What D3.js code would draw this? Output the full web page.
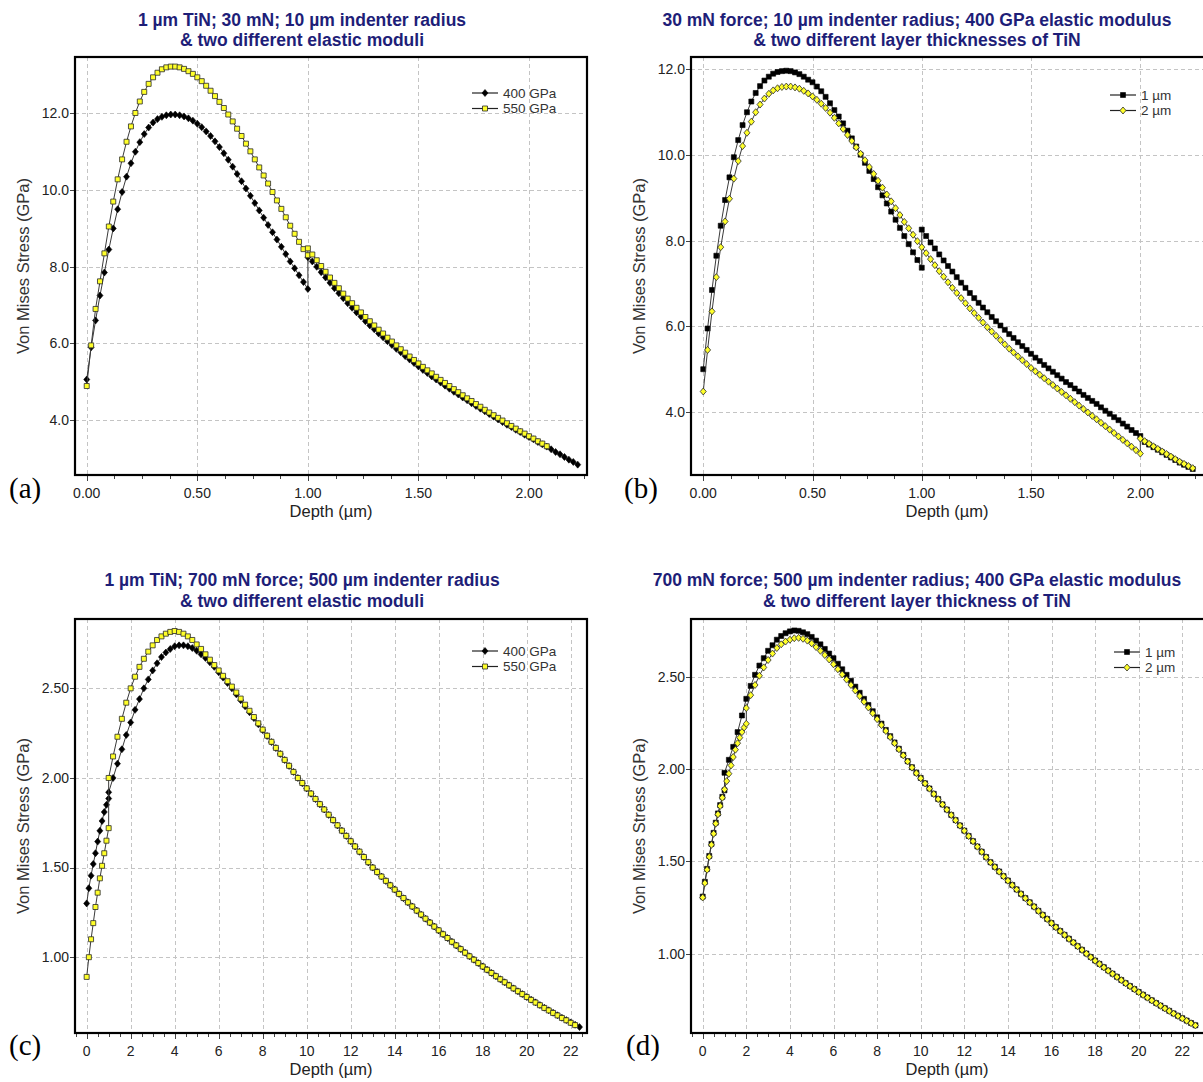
<!DOCTYPE html>
<html>
<head>
<meta charset="utf-8">
<script src="https://cdn.jsdelivr.net/npm/d3@7"></script>
<style>
  body { margin: 0; background: #ffffff; }
  svg text { font-family: "Liberation Sans", Arial, Helvetica, sans-serif; }
</style>
</head>
<body>
<svg id="fig" width="1203" height="1082"></svg>
<script>
// ---------------- Tick values ----------------
const thinDepthTicks = [0, 0.5, 1.0, 1.5, 2.0];
const thickDepthTicks = [0, 2, 4, 6, 8, 10, 12, 14, 16, 18, 20, 22];
const thinStressTicks = [4, 6, 8, 10, 12];
const thickStressTicks = [1.0, 1.5, 2.0, 2.5];

// ---------------- Panel (a): 1 µm TiN, 30 mN, R = 10 µm ----------------
// stress (GPa) every 0.02 µm; coating part from 0, substrate part from the interface
const a400Coat = [5.06,5.90,6.60,7.25,7.85,8.45,9.00,9.50,9.95,10.35,10.70,11.00,11.25,11.46,11.63,11.76,11.85,11.91,11.95,11.97,
  11.97,11.95,11.92,11.87,11.81,11.73,11.64,11.53,11.41,11.27,11.12,10.96,10.79,10.61,10.42,10.23,10.04,9.85,9.66,9.47,
  9.28,9.09,8.90,8.71,8.52,8.33,8.14,7.96,7.78,7.60,7.42];
const a400Sub = [8.25,8.14,8.00,7.86,7.72,7.58,7.44,7.31,7.18,7.05,6.93,6.81,6.70,6.58,6.47,6.37,6.26,6.16,6.06,5.96,
  5.86,5.77,5.67,5.58,5.49,5.40,5.31,5.23,5.14,5.06,4.98,4.90,4.82,4.74,4.67,4.59,4.52,4.44,4.37,4.30,
  4.23,4.16,4.09,4.02,3.95,3.88,3.82,3.75,3.69,3.62,3.56,3.50,3.43,3.37,3.31,3.24,3.17,3.11,3.04,2.97,2.91,2.84];
const a550Coat = [4.89,5.95,6.90,7.62,8.35,9.05,9.70,10.28,10.80,11.26,11.66,12.01,12.31,12.56,12.77,12.94,13.06,13.15,13.20,13.22,
  13.22,13.20,13.16,13.10,13.03,12.94,12.84,12.72,12.59,12.45,12.30,12.14,11.97,11.79,11.60,11.41,11.21,11.01,10.80,10.59,
  10.38,10.17,9.95,9.73,9.51,9.29,9.07,8.86,8.65,8.46,8.30];
const a550Sub = [8.48,8.32,8.17,8.02,7.87,7.72,7.58,7.44,7.30,7.17,7.05,6.93,6.81,6.69,6.58,6.47,6.36,6.26,6.15,6.05,
  5.95,5.85,5.76,5.66,5.57,5.48,5.39,5.30,5.22,5.13,5.05,4.97,4.89,4.81,4.73,4.65,4.57,4.50,4.42,4.35,
  4.27,4.20,4.13,4.06,3.99,3.92,3.85,3.78,3.71,3.65,3.58,3.52,3.45,3.39,3.32];

// ---------------- Panel (b): 30 mN, R = 10 µm, E = 400 GPa ----------------
const b1Coat = [5.00,5.95,6.85,7.65,8.35,8.95,9.48,9.95,10.35,10.70,11.00,11.25,11.45,11.61,11.74,11.83,11.90,11.94,11.96,11.97,
  11.96,11.93,11.89,11.83,11.76,11.70,11.60,11.49,11.36,11.21,11.05,10.90,10.74,10.57,10.39,10.20,10.01,9.82,9.63,9.44,
  9.25,9.06,8.87,8.68,8.49,8.30,8.11,7.92,7.73,7.55,7.37];
const b1Sub = [8.26,8.11,7.96,7.82,7.68,7.54,7.41,7.28,7.15,7.02,6.90,6.78,6.66,6.55,6.44,6.33,6.22,6.12,6.02,5.92,
  5.82,5.73,5.63,5.54,5.45,5.36,5.27,5.19,5.10,5.02,4.94,4.86,4.78,4.70,4.63,4.55,4.48,4.40,4.33,4.26,
  4.19,4.11,4.03,3.96,3.88,3.81,3.73,3.66,3.58,3.51,3.44,3.30,3.24,3.18,3.12,3.06,3.00,2.94,2.88,2.82,2.77,2.72,2.67];
const b2Coat = [4.48,5.45,6.35,7.15,7.85,8.45,8.98,9.45,9.86,10.21,10.52,10.78,11.00,11.18,11.32,11.43,11.51,11.56,11.59,11.60,
  11.60,11.58,11.55,11.50,11.44,11.37,11.29,11.20,11.10,10.99,10.87,10.74,10.61,10.47,10.33,10.18,10.03,9.88,9.72,9.56,
  9.40,9.24,9.08,8.92,8.76,8.60,8.44,8.29,8.14,7.99,
  7.85,7.71,7.57,7.43,7.29,7.16,7.03,6.90,6.78,6.66,6.54,6.42,6.31,6.20,6.09,5.98,5.88,5.78,5.68,5.58,
  5.48,5.39,5.30,5.21,5.12,
  5.03,4.95,4.87,4.79,4.71,4.63,4.55,4.47,4.39,4.31,4.23,4.15,4.07,3.99,3.91,3.83,3.75,3.67,3.59,3.51,
  3.43,3.35,3.27,3.19,3.11,3.03];
const b2Sub = [3.38,3.32,3.26,3.20,3.14,3.08,3.02,2.96,2.90,2.84,2.79,2.74,2.69];

// ---------------- Panel (c): 1 µm TiN, 700 mN, R = 500 µm ----------------
// coating every 0.1 µm, substrate every 0.2 µm
const c400Coat = [1.30,1.385,1.455,1.52,1.58,1.645,1.705,1.76,1.81,1.85,1.885];
const c400Sub = [1.92,2.00,2.08,2.16,2.24,2.31,2.38,2.44,2.50,2.55,2.60,2.64,2.675,2.70,2.72,2.735,2.74,2.74,2.735,2.725,
  2.71,2.69,2.67,2.645,2.62,2.59,2.56,2.53,
  2.50,2.467,2.434,2.40,2.367,2.334,2.30,2.267,2.234,2.20,2.167,2.134,2.10,2.067,2.034,2.00,
  1.971,1.941,1.912,1.882,1.853,1.824,1.794,1.765,1.735,1.706,1.676,1.647,1.618,1.588,1.559,1.529,1.50,
  1.475,1.45,1.425,1.401,1.377,1.353,1.329,1.306,1.283,1.26,1.237,1.215,1.193,1.171,1.149,1.128,1.107,1.086,1.065,1.045,1.025,1.005,
  0.986,0.967,0.948,0.93,0.912,0.894,0.877,0.86,0.843,0.826,0.81,0.794,0.778,0.763,0.748,0.733,0.718,0.704,0.69,0.676,0.662,0.649,0.636,0.623,0.61];
const c550Coat = [0.89,1.00,1.10,1.19,1.28,1.36,1.44,1.51,1.58,1.65,1.72];
const c550Sub = [2.00,2.12,2.23,2.33,2.42,2.50,2.565,2.62,2.665,2.705,2.74,2.77,2.79,2.805,2.815,2.82,2.815,2.805,2.79,2.77,
  2.745,2.72,2.69,2.66,2.63,2.60,2.57,2.54,
  2.51,2.477,2.443,2.409,2.375,2.34,2.305,2.27,2.236,2.202,2.168,2.135,2.101,2.068,2.034,2.00,
  1.972,1.942,1.913,1.883,1.854,1.824,1.795,1.765,1.736,1.706,1.677,1.647,1.618,1.589,1.559,1.53,1.50,
  1.475,1.45,1.426,1.401,1.377,1.353,1.33,1.306,1.283,1.26,1.238,1.215,1.193,1.171,1.15,1.128,1.107,1.086,1.066,1.045,1.025,1.005,
  0.986,0.967,0.948,0.93,0.912,0.894,0.877,0.86,0.843,0.826,0.81,0.794,0.778,0.762,0.747,0.732,0.717,0.703,0.689,0.675,0.661,0.648,0.634,0.621];

// ---------------- Panel (d): 700 mN, R = 500 µm, E = 400 GPa ----------------
const d1Coat = [1.31,1.39,1.46,1.53,1.595,1.655,1.71,1.76,1.805,1.85,1.885];
const d1Sub = [1.98,2.05,2.12,2.20,2.29,2.38,2.45,2.51,2.56,2.60,2.64,2.67,2.70,2.72,2.735,2.745,2.75,2.748,2.74,2.73,
  2.715,2.695,2.675,2.65,2.625,2.60,2.57,2.54,
  2.51,2.478,2.446,2.413,2.38,2.347,2.313,2.28,2.246,2.212,2.178,2.144,2.11,2.077,2.043,2.01,
  1.98,1.952,1.923,1.895,1.866,1.838,1.809,1.781,1.752,1.724,1.695,1.667,1.638,1.61,1.581,1.553,1.524,1.496,
  1.471,1.446,1.421,1.397,1.373,1.349,1.325,1.302,1.279,1.256,1.233,1.211,1.189,1.167,1.145,1.124,1.103,1.082,1.062,1.042,1.022,1.002,0.983,
  0.964,0.946,0.928,0.91,0.893,0.876,0.859,0.842,0.826,0.81,0.794,0.779,0.764,0.749,0.734,0.72,0.706,0.692,0.678,0.665,0.652,0.639,0.626,0.614];
const d2Coat = [1.305,1.383,1.455,1.525,1.59,1.65,1.705,1.755,1.80,1.845,1.89,1.935,1.975,2.02,2.065,2.105,2.14,2.17,2.20,2.225,2.245];
const d2Sub = [2.33,2.40,2.455,2.505,2.55,2.59,2.625,2.655,2.675,2.69,2.70,2.708,2.71,2.705,2.695,2.68,2.66,2.64,2.617,2.593,2.567,2.54,2.512,
  2.484,2.455,2.425,2.395,2.364,2.333,2.302,2.27,2.238,2.206,2.173,2.14,2.107,2.074,2.041,2.008,
  1.978,1.95,1.922,1.894,1.865,1.837,1.808,1.78,1.751,1.723,1.694,1.666,1.637,1.609,1.58,1.552,1.523,1.495,
  1.47,1.445,1.42,1.396,1.372,1.348,1.324,1.301,1.278,1.255,1.232,1.21,1.188,1.166,1.144,1.123,1.102,1.081,1.061,1.041,1.021,1.001,0.982,
  0.963,0.945,0.927,0.909,0.892,0.875,0.858,0.841,0.825,0.809,0.793,0.778,0.763,0.748,0.733,0.719,0.705,0.691,0.677,0.664,0.651,0.638,0.625,0.613];

// ---------------- Helpers ----------------
// Joins the coating and substrate samples into one depth/stress path.
function profile(coat, coatStep, sub, iface, subStep) {
  const pts = coat.map((v, i) => ({ d: +(i * coatStep).toFixed(4), s: v }));
  sub.forEach((v, i) => pts.push({ d: +(iface + i * subStep).toFixed(4), s: v }));
  return pts;
}

const SHAPES = {
  diamond: "M0,-3.5L3,0L0,3.5L-3,0Z",
  square: "M-2.5,-2.5h5v5h-5Z"
};
const STYLE = {
  blackDiamond: { shape: "diamond", fill: "#000000", stroke: "#000000", sw: 0.6 },
  yellowSquare: { shape: "square", fill: "#ffff2a", stroke: "#2a2a2a", sw: 0.8 },
  blackSquare:  { shape: "square", fill: "#000000", stroke: "#000000", sw: 0.6 },
  yellowDiamond:{ shape: "diamond", fill: "#ffff2a", stroke: "#2a2a2a", sw: 0.8 }
};

const panels = [
  {
    frame: { l: 75, t: 57, r: 587, b: 475 }, xDom: [-0.053, 2.262], yDom: [2.57, 13.47],
    xTicks: thinDepthTicks, xFmt: d3.format(".2f"), xMinor: 0.125,
    yTicks: thinStressTicks, yFmt: d3.format(".1f"),
    title: ["1 µm TiN; 30 mN; 10 µm indenter radius", "& two different elastic moduli"],
    titleX: 302, titleY: [26, 46], yTitleX: 23, depthX: 331,
    legend: { x: 472, y: 93 }, letter: { text: "(a)", x: 9, y: 498 },
    series: [
      { name: "400 GPa", style: STYLE.blackDiamond, pts: profile(a400Coat, 0.02, a400Sub, 1.0, 0.02) },
      { name: "550 GPa", style: STYLE.yellowSquare, pts: profile(a550Coat, 0.02, a550Sub, 1.0, 0.02) }
    ]
  },
  {
    frame: { l: 691, t: 57, r: 1205, b: 475 }, xDom: [-0.056, 2.296], yDom: [2.53, 12.29],
    xTicks: thinDepthTicks, xFmt: d3.format(".2f"), xMinor: 0.125,
    yTicks: thinStressTicks, yFmt: d3.format(".1f"),
    title: ["30 mN force; 10 µm indenter radius; 400 GPa elastic modulus", "& two different layer thicknesses of TiN"],
    titleX: 917, titleY: [26, 46], yTitleX: 639, depthX: 947,
    legend: { x: 1110, y: 95 }, letter: { text: "(b)", x: 624, y: 498 },
    series: [
      { name: "1 µm", style: STYLE.blackSquare, pts: profile(b1Coat, 0.02, b1Sub, 1.0, 0.02) },
      { name: "2 µm", style: STYLE.yellowDiamond, pts: profile(b2Coat, 0.02, b2Sub, 2.0, 0.02) }
    ]
  },
  {
    frame: { l: 75, t: 619, r: 587, b: 1033 }, xDom: [-0.53, 22.74], yDom: [0.577, 2.887],
    xTicks: thickDepthTicks, xFmt: d3.format("d"), xMinor: 0.5,
    yTicks: thickStressTicks, yFmt: d3.format(".2f"),
    title: ["1 µm TiN; 700 mN force; 500 µm indenter radius", "& two different elastic moduli"],
    titleX: 302, titleY: [586, 607], yTitleX: 23, depthX: 331,
    legend: { x: 472, y: 651 }, letter: { text: "(c)", x: 9, y: 1055 },
    series: [
      { name: "400 GPa", style: STYLE.blackDiamond, pts: profile(c400Coat, 0.1, c400Sub, 1.0, 0.2) },
      { name: "550 GPa", style: STYLE.yellowSquare, pts: profile(c550Coat, 0.1, c550Sub, 1.0, 0.2) }
    ]
  },
  {
    frame: { l: 691, t: 619, r: 1205, b: 1033 }, xDom: [-0.537, 23.04], yDom: [0.572, 2.812],
    xTicks: thickDepthTicks, xFmt: d3.format("d"), xMinor: 0.5,
    yTicks: thickStressTicks, yFmt: d3.format(".2f"),
    title: ["700 mN force; 500 µm indenter radius; 400 GPa elastic modulus", "& two different layer thickness of TiN"],
    titleX: 917, titleY: [586, 607], yTitleX: 639, depthX: 947,
    legend: { x: 1114, y: 652 }, letter: { text: "(d)", x: 626, y: 1055 },
    series: [
      { name: "1 µm", style: STYLE.blackSquare, pts: profile(d1Coat, 0.1, d1Sub, 1.0, 0.2) },
      { name: "2 µm", style: STYLE.yellowDiamond, pts: profile(d2Coat, 0.1, d2Sub, 2.0, 0.2) }
    ]
  }
];

// ---------------- Drawing ----------------
const svg = d3.select("#fig");
svg.append("rect").attr("width", 1203).attr("height", 1082).attr("fill", "#ffffff");

panels.forEach((p, pi) => {
  const f = p.frame;
  const x = d3.scaleLinear().domain(p.xDom).range([f.l, f.r]);
  const y = d3.scaleLinear().domain(p.yDom).range([f.b, f.t]);
  const g = svg.append("g");

  // title
  const title = g.append("text").attr("text-anchor", "middle")
    .attr("font-size", 17.5).attr("font-weight", "bold").attr("fill", "#1e1e78");
  p.title.forEach((line, i) => title.append("tspan").attr("x", p.titleX).attr("y", p.titleY[i]).text(line));

  // dashed grid
  const grid = g.append("g").attr("stroke", "#c4c4c4").attr("stroke-width", 1).attr("stroke-dasharray", "4,3");
  grid.selectAll(".gx").data(p.xTicks).join("line")
    .attr("x1", d => Math.round(x(d)) + 0.5).attr("x2", d => Math.round(x(d)) + 0.5)
    .attr("y1", f.t).attr("y2", f.b);
  grid.selectAll(".gy").data(p.yTicks).join("line")
    .attr("y1", d => Math.round(y(d)) + 0.5).attr("y2", d => Math.round(y(d)) + 0.5)
    .attr("x1", f.l).attr("x2", f.r);

  // x axis ticks (major + minor) and labels
  const minor = d3.range(Math.ceil(p.xDom[0] / p.xMinor) * p.xMinor, p.xDom[1], p.xMinor);
  g.append("g").attr("stroke", "#444").attr("stroke-width", 1)
    .selectAll("line").data(minor).join("line")
    .attr("x1", d => Math.round(x(d)) + 0.5).attr("x2", d => Math.round(x(d)) + 0.5)
    .attr("y1", f.b).attr("y2", d => f.b + (p.xTicks.some(t => Math.abs(t - d) < 1e-6) ? 6 : 4));
  g.append("g").selectAll("text").data(p.xTicks).join("text")
    .attr("x", d => x(d)).attr("y", f.b + 23).attr("text-anchor", "middle")
    .attr("font-size", 14).attr("fill", "#222").text(p.xFmt);
  g.append("text").attr("x", p.depthX).attr("y", f.b + 42)
    .attr("text-anchor", "middle").attr("font-size", 16.5).attr("fill", "#222").text("Depth (µm)");

  // y axis ticks and labels
  g.append("g").attr("stroke", "#444").attr("stroke-width", 1)
    .selectAll("line").data(p.yTicks).join("line")
    .attr("x1", f.l - 5).attr("x2", f.l)
    .attr("y1", d => Math.round(y(d)) + 0.5).attr("y2", d => Math.round(y(d)) + 0.5);
  g.append("g").selectAll("text").data(p.yTicks).join("text")
    .attr("x", f.l - 6).attr("y", d => y(d)).attr("dy", "0.35em").attr("text-anchor", "end")
    .attr("font-size", 14).attr("fill", "#222").text(p.yFmt);
  g.append("text").attr("transform", `translate(${p.yTitleX},${(f.t + f.b) / 2}) rotate(-90)`)
    .attr("text-anchor", "middle").attr("dy", "0.35em")
    .attr("font-size", 16.5).attr("fill", "#333").text("Von Mises Stress (GPa)");

  // series: connecting line first, then markers
  const clipId = "clip" + pi;
  g.append("clipPath").attr("id", clipId).append("rect")
    .attr("x", f.l).attr("y", f.t).attr("width", f.r - f.l).attr("height", f.b - f.t);
  const plot = g.append("g").attr("clip-path", `url(#${clipId})`);
  const line = d3.line().x(d => x(d.d)).y(d => y(d.s));
  p.series.forEach(s => {
    plot.append("path").datum(s.pts).attr("d", line)
      .attr("fill", "none").attr("stroke", "#3a3a3a").attr("stroke-width", 1);
    plot.append("g").selectAll("path").data(s.pts).join("path")
      .attr("transform", d => `translate(${x(d.d)},${y(d.s)})`)
      .attr("d", SHAPES[s.style.shape])
      .attr("fill", s.style.fill).attr("stroke", s.style.stroke).attr("stroke-width", s.style.sw);
  });

  // frame
  g.append("rect").attr("x", f.l).attr("y", f.t).attr("width", f.r - f.l).attr("height", f.b - f.t)
    .attr("fill", "none").attr("stroke", "#000").attr("stroke-width", 2.2);

  // legend
  p.series.forEach((s, i) => {
    const ly = p.legend.y + i * 15.5;
    g.append("line").attr("x1", p.legend.x).attr("x2", p.legend.x + 26).attr("y1", ly).attr("y2", ly)
      .attr("stroke", "#222").attr("stroke-width", 1.2);
    g.append("path").attr("transform", `translate(${p.legend.x + 13},${ly})`).attr("d", SHAPES[s.style.shape])
      .attr("fill", s.style.fill).attr("stroke", s.style.stroke).attr("stroke-width", s.style.sw);
    g.append("text").attr("x", p.legend.x + 31).attr("y", ly).attr("dy", "0.35em")
      .attr("font-size", 13.5).attr("fill", "#333").text(s.name);
  });

  // panel letter
  g.append("text").attr("x", p.letter.x).attr("y", p.letter.y)
    .style("font-family", "'Liberation Serif', 'Times New Roman', serif")
    .attr("font-size", 29).attr("fill", "#000").text(p.letter.text);
});
</script>
</body>
</html>
